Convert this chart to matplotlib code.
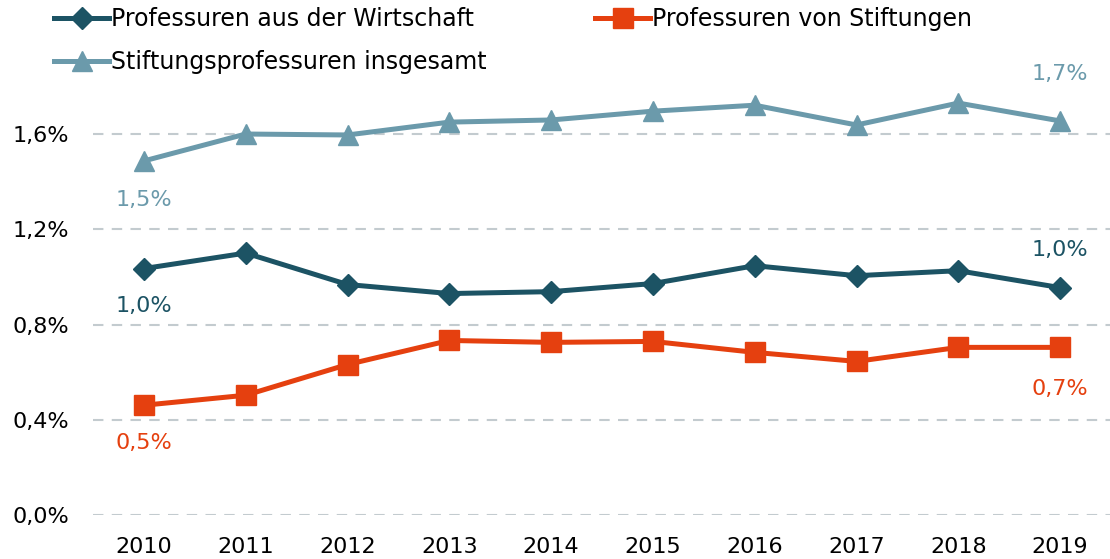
import matplotlib
matplotlib.use("Agg")
import matplotlib.pyplot as plt
from matplotlib.ticker import FuncFormatter

years = ["2010", "2011", "2012", "2013", "2014", "2015", "2016", "2017", "2018", "2019"]
wirtschaft = [1.035, 1.10, 0.968, 0.930, 0.938, 0.972, 1.047, 1.005, 1.026, 0.955]
stiftungen = [0.461, 0.503, 0.632, 0.733, 0.725, 0.729, 0.683, 0.645, 0.704, 0.704]
insgesamt = [1.487, 1.600, 1.596, 1.650, 1.659, 1.696, 1.721, 1.638, 1.730, 1.655]
yticks = [0.0, 0.4, 0.8, 1.2, 1.6]

c_w = "#1C5364"
c_s = "#E5400F"
c_i = "#6B9AAB"

plt.rcParams['font.family'] = ['DejaVu Sans']
fig = plt.figure(figsize=(11.1, 5.59), dpi=100)
ax = fig.add_axes([93/1110, 44/559, 1018/1110, 428.6/559])

x = list(range(len(years)))
l1, = ax.plot(x, wirtschaft, color=c_w, lw=3.6, marker="D", ms=11, label="Professuren aus der Wirtschaft")
l2, = ax.plot(x, stiftungen, color=c_s, lw=3.6, marker="s", ms=14, label="Professuren von Stiftungen")
l3, = ax.plot(x, insgesamt, color=c_i, lw=3.6, marker="^", ms=15, label="Stiftungsprofessuren insgesamt")

ax.set_xlim(-0.5, 9.5)
ax.set_ylim(0, 1.8)
ax.set_yticks(yticks)
ax.yaxis.set_major_formatter(FuncFormatter(lambda v, p: f"{v:.1f}%".replace(".", ",")))
ax.set_xticks(x)
ax.set_xticklabels(years)
ax.grid(axis="y", color="#C3CBCF", ls=(0, (5, 4)), lw=1.5)
ax.set_axisbelow(True)
for s in ax.spines.values():
    s.set_visible(False)
ax.tick_params(length=0, labelsize=16, colors="black")
ax.tick_params(axis="y", pad=17)
ax.tick_params(axis="x", pad=16)

def lab(i, v, col, dy):
    ax.annotate(f"{v:.1f}%".replace(".", ","), (i, v), xytext=(0, dy), textcoords="offset points",
                ha="center", va="center", color=col, fontsize=16)

lab(0, insgesamt[0], c_i, -28)
lab(9, insgesamt[9], c_i, 34)
lab(0, wirtschaft[0], c_w, -27)
lab(9, wirtschaft[9], c_w, 27)
lab(0, stiftungen[0], c_s, -27)
lab(9, stiftungen[9], c_s, -30)

fig.legend(handles=[l1, l3, l2], loc="upper left", bbox_to_anchor=(45/1110, 1.004), ncol=2,
           frameon=False, fontsize=17, handlelength=2.3, handletextpad=0.1, columnspacing=4.6,
           labelspacing=0.8, borderaxespad=0.0)

fig.savefig("out.png", dpi=100)
